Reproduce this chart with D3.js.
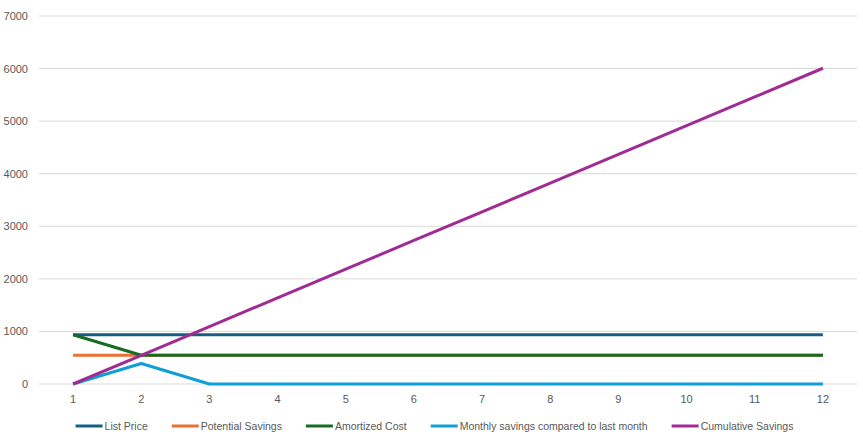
<!DOCTYPE html>
<html>
<head>
<meta charset="utf-8">
<script src="https://cdn.jsdelivr.net/npm/d3@7"></script>
<style>
  body { margin: 0; background: #fff; }
  text { font-family: "Liberation Sans", Arial, sans-serif; fill: #595959; }
</style>
</head>
<body>
<svg id="chart"></svg>
<script>
const months = [1, 2, 3, 4, 5, 6, 7, 8, 9, 10, 11, 12];
const yTicks = [0, 1000, 2000, 3000, 4000, 5000, 6000, 7000];

const listPrice         = [937, 937, 937, 937, 937, 937, 937, 937, 937, 937, 937, 937];
const potentialSavings  = [546, 546, 546, 546, 546, 546, 546, 546, 546, 546, 546, 546];
const amortizedCost     = [937, 546, 546, 546, 546, 546, 546, 546, 546, 546, 546, 546];
const monthlySavings    = [0, 390, 0, 0, 0, 0, 0, 0, 0, 0, 0, 0];
const cumulativeSavings = [0, 546, 1092, 1638, 2184, 2730, 3276, 3822, 4368, 4914, 5460, 6006];

const seriesNames = ['List Price', 'Potential Savings', 'Amortized Cost',
    'Monthly savings compared to last month', 'Cumulative Savings'];
const seriesValues = [listPrice, potentialSavings, amortizedCost, monthlySavings, cumulativeSavings];
const seriesColors = ['#156082', '#E97132', '#196B24', '#0F9ED5', '#A02B93'];

const width = 863;
const height = 440;
const margin = { top: 16, right: 6, bottom: 56, left: 39 };

const svg = d3.select('#chart')
    .attr('width', width)
    .attr('height', height);

const x = d3.scalePoint()
    .domain(months)
    .range([margin.left, width - margin.right])
    .padding(0.5);

const y = d3.scaleLinear()
    .domain([0, 7000])
    .range([height - margin.bottom, margin.top]);

// gridlines
svg.append('g')
    .selectAll('line')
    .data(yTicks)
    .enter().append('line')
    .attr('x1', margin.left)
    .attr('x2', width - margin.right)
    .attr('y1', d => y(d))
    .attr('y2', d => y(d))
    .attr('stroke', '#D9D9D9')
    .attr('stroke-width', 1);

// y labels
svg.append('g')
    .selectAll('text')
    .data(yTicks)
    .enter().append('text')
    .attr('x', 28)
    .attr('y', d => y(d) + 4)
    .attr('text-anchor', 'end')
    .style('font-size', '11px')
    .text(d => d);

// x labels
svg.append('g')
    .selectAll('text')
    .data(months)
    .enter().append('text')
    .attr('x', d => x(d))
    .attr('y', height - margin.bottom + 19)
    .attr('text-anchor', 'middle')
    .style('font-size', '11px')
    .text(d => d);

// lines
const line = d3.line()
    .x((d, i) => x(months[i]))
    .y(d => y(d));

seriesValues.forEach((vals, k) => {
    svg.append('path')
        .datum(vals)
        .attr('d', line)
        .attr('fill', 'none')
        .attr('stroke', seriesColors[k])
        .attr('stroke-width', 3)
        .attr('stroke-linejoin', 'round');
});

// legend
const legend = svg.append('g');
const legendY = 426;
let cursor = 0;
seriesNames.forEach((name, k) => {
    const item = legend.append('g').attr('transform', `translate(${cursor}, 0)`);
    item.append('line')
        .attr('x1', 0).attr('x2', 27)
        .attr('y1', legendY).attr('y2', legendY)
        .attr('stroke', seriesColors[k])
        .attr('stroke-width', 3);
    const t = item.append('text')
        .attr('x', 29)
        .attr('y', legendY + 4)
        .style('font-size', '10.5px')
        .text(name);
    cursor += 29 + t.node().getComputedTextLength() + 24;
});
const legendWidth = cursor - 24;
legend.attr('transform', `translate(${(width - legendWidth) / 2 + 3}, 0)`);
</script>
</body>
</html>
